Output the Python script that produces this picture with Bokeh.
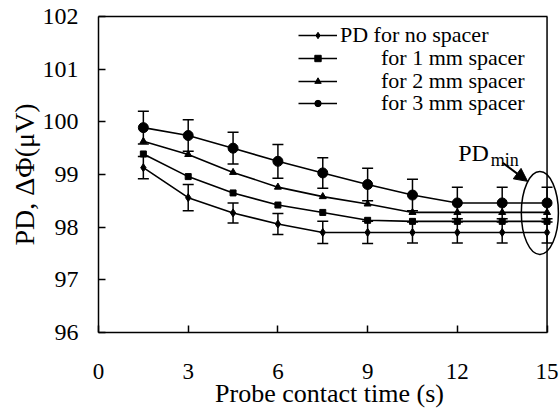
import math
from bokeh.plotting import figure
from bokeh.models import (Range1d, LinearAxis, FixedTicker, Span, Whisker, TeeHead,
                          ColumnDataSource, Legend, LegendItem, Label, Arrow, NormalHead)
from bokeh.embed import file_html
from bokeh.resources import INLINE

FONT = "'Liberation Serif'"

# ---- data ----
time_s = [1.5, 3, 4.5, 6, 7.5, 9, 10.5, 12, 13.5, 15]
pd_none = [99.13, 98.56, 98.27, 98.06, 97.90, 97.90, 97.90, 97.90, 97.90, 97.90]
pd_1mm = [99.39, 98.96, 98.65, 98.42, 98.28, 98.13, 98.11, 98.11, 98.11, 98.11]
pd_2mm = [99.63, 99.38, 99.04, 98.76, 98.58, 98.44, 98.28, 98.28, 98.28, 98.28]
pd_3mm = [99.89, 99.74, 99.50, 99.25, 99.03, 98.81, 98.61, 98.46, 98.46, 98.46]
err_none = [0.21, 0.25, 0.19, 0.20, 0.21, 0.21, 0.20, 0.20, 0.20, 0.20]
err_3mm = [0.31, 0.30, 0.30, 0.32, 0.29, 0.31, 0.30, 0.30, 0.30, 0.30]

series_labels = ["PD for no spacer", "for 1 mm spacer", "for 2 mm spacer", "for 3 mm spacer"]
x_ticks = [0, 3, 6, 9, 12, 15]
y_ticks = [96, 97, 98, 99, 100, 101, 102]

p = figure(width=560, height=414, output_backend="svg", toolbar_location=None,
           x_range=Range1d(0, 15.45), y_range=Range1d(96, 102),
           min_border_left=98, min_border_right=0, min_border_top=16, min_border_bottom=82)
p.outline_line_color = None
p.grid.visible = False
p.background_fill_color = "white"
p.border_fill_color = "white"

xa = p.xaxis[0]
xa.ticker = FixedTicker(ticks=x_ticks)
xa.bounds = (0, 15)
xa.major_tick_in = 7
xa.major_tick_out = 0
xa.minor_tick_line_color = None
xa.axis_line_width = 1.5
xa.major_tick_line_width = 1.5
xa.axis_line_color = "black"
xa.major_tick_line_color = "black"
xa.major_label_text_font = FONT
xa.major_label_text_font_size = "23px"
xa.major_label_text_color = "black"
xa.major_label_standoff = 31
xa.axis_label = "Probe contact time (s)"
xa.axis_label_text_font = FONT
xa.axis_label_text_font_size = "26px"
xa.axis_label_text_font_style = "normal"
xa.axis_label_text_color = "black"
xa.axis_label_standoff = -3

ya = p.yaxis[0]
ya.ticker = FixedTicker(ticks=y_ticks)
ya.bounds = (96, 102)
ya.major_tick_in = 7
ya.major_tick_out = 0
ya.minor_tick_line_color = None
ya.axis_line_width = 1.5
ya.major_tick_line_width = 1.5
ya.axis_line_color = "black"
ya.major_tick_line_color = "black"
ya.major_label_text_font = FONT
ya.major_label_text_font_size = "24px"
ya.major_label_text_color = "black"
ya.major_label_standoff = 20

# second (invisible) left axis only to carry the y title, centred a bit higher
ylab_axis = LinearAxis(bounds=(96.76, 102), ticker=FixedTicker(ticks=[]),
                       axis_line_color=None, major_tick_line_color=None,
                       minor_tick_line_color=None, major_label_text_font_size="0px",
                       major_tick_in=0, major_tick_out=0, minor_tick_in=0, minor_tick_out=0,
                       major_label_standoff=0,
                       axis_label="PD, ΔΦ(μV)", axis_label_text_font=FONT,
                       axis_label_text_font_size="28px", axis_label_text_font_style="normal",
                       axis_label_text_color="black", axis_label_standoff=0)
p.add_layout(ylab_axis, "left")

top = LinearAxis(bounds=(0, 15), ticker=FixedTicker(ticks=[]),
                 major_label_text_font_size="0px", major_tick_in=0, major_tick_out=0,
                 minor_tick_in=0, minor_tick_out=0, major_label_standoff=0,
                 axis_line_width=1.5, axis_line_color="black")
p.add_layout(top, "above")
p.add_layout(Span(location=15, dimension="height", line_color="black", line_width=1.5))

# error bars
src_none = ColumnDataSource(dict(x=time_s,
                                 lo=[v - e for v, e in zip(pd_none, err_none)],
                                 hi=[v + e for v, e in zip(pd_none, err_none)]))
src_3 = ColumnDataSource(dict(x=time_s,
                              lo=[v - e for v, e in zip(pd_3mm, err_3mm)],
                              hi=[v + e for v, e in zip(pd_3mm, err_3mm)]))
for src in (src_none, src_3):
    p.add_layout(Whisker(source=src, base="x", lower="lo", upper="hi",
                         line_color="black", line_width=1.5,
                         upper_head=TeeHead(size=11, line_width=1.5, line_color="black"),
                         lower_head=TeeHead(size=11, line_width=1.5, line_color="black")))

specs = [(pd_none, "diamond", 8), (pd_1mm, "square", 6), (pd_2mm, "triangle", 7), (pd_3mm, "circle", 10)]
renderers = []
for vals, mk, sz in specs:
    lr = p.line(time_s, vals, line_color="black", line_width=1.6)
    sr = p.scatter(time_s, vals, marker=mk, size=sz, fill_color="black", line_color="black")
    renderers.append((lr, sr))

# legends (one per row so row 1 label can start further left)
frame_h = 316
row_centers = [19, 41.8, 64.6, 87.4]
for i, (lab, (lr, sr)) in enumerate(zip(series_labels, renderers)):
    leg = Legend(items=[LegendItem(label=lab, renderers=[lr, sr])],
                 location=(200, frame_h - row_centers[i] - 13),
                 padding=0, margin=0, spacing=0,
                 border_line_color=None, background_fill_alpha=0,
                 glyph_width=39, glyph_height=16, label_height=26,
                 label_standoff=3 if i == 0 else 44,
                 label_text_font=FONT, label_text_font_size="22px", label_text_color="black")
    p.add_layout(leg)

# ellipse marking PD_min
p.ellipse(x=14.76, y=98.27, width=1.24, height=1.576, fill_color=None,
          line_color="black", line_width=1.5)
p.add_layout(Label(x=12.03, y=99.40, text="PD", text_font=FONT, text_font_size="24px",
                   text_baseline="alphabetic", text_align="left", text_color="black"))
p.add_layout(Label(x=13.12, y=99.28, text="min", text_font=FONT, text_font_size="18px",
                   text_baseline="alphabetic", text_align="left", text_color="black"))
p.add_layout(Arrow(end=NormalHead(size=13, fill_color="black", line_color="black"),
                   x_start=13.52, y_start=99.22, x_end=14.35, y_end=98.87,
                   line_width=2, line_color="black"))

open("out.html", "w").write(file_html(p, INLINE))
